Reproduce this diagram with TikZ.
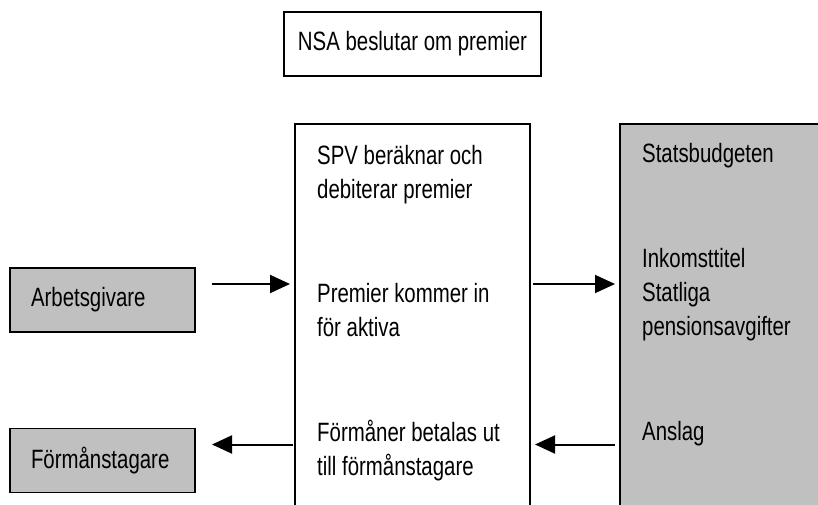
\documentclass[tikz,border=0pt]{standalone}
\usepackage{fontspec}
\setmainfont[FakeStretch=0.77]{Liberation Sans}
\usetikzlibrary{arrows.meta}
\definecolor{boxgray}{HTML}{C0C0C0}

\begin{document}
\begin{tikzpicture}[x=1pt, y=-1pt,
    font=\fontsize{26.5}{34}\selectfont,
    box/.style={draw, line width=1.8pt, outer sep=0pt, fill=white},
    graybox/.style={box, fill=boxgray, minimum width=185pt, minimum height=64pt,
        inner xsep=21pt, text width=143pt, align=left},
    txt/.style={anchor=base west, inner sep=0pt, align=left},
    arr/.style={-{Triangle[length=20pt, width=18pt]}, line width=2pt}]
    \useasboundingbox (0,0) rectangle (818,505);

    % Define positions of the boxes
    \node[box, minimum width=257pt, minimum height=64pt] (nsa) at (412.5, 44) {NSA beslutar om premier};
    \node[graybox] (ag) at (102.5, 300) {Arbetsgivare};
    \node[graybox] (fm) at (102.5, 460.5) {Förmånstagare};
    \node[box, anchor=north west, minimum width=235pt, minimum height=420pt] (spv) at (295, 124) {};
    \node[box, fill=boxgray, anchor=north west, minimum width=230pt, minimum height=420pt] (budget) at (620, 124) {};

    % Texts in the open boxes (base = last line)
    \node[txt] (spvtop) at (317, 198) {SPV beräknar och\\debiterar premier};
    \node[txt] (spvin) at (317, 336) {Premier kommer in\\för aktiva};
    \node[txt] (spvut) at (317, 475) {Förmåner betalas ut\\till förmånstagare};
    \node[txt] (sb) at (642, 163) {Statsbudgeten};
    \node[txt] (inkomst) at (642, 335) {Inkomsttitel\\Statliga\\pensionsavgifter};
    \node[txt] (anslag) at (642, 440) {Anslag};

    % Draw arrows between the boxes
    \draw[arr] ([shift={(17,-16)}]ag.east) -- ([shift={(-5,-16)}]ag.east -| spv.west);
    \draw[arr] ([shift={(3,-16)}]ag.east -| spv.east) -- ([shift={(-5,-16)}]ag.east -| budget.west);
    \draw[arr] ([shift={(-2,-16)}]fm.east -| spv.west) -- ([shift={(17,-16)}]fm.east);
    \draw[arr] ([shift={(-5,-16)}]fm.east -| budget.west) -- ([shift={(5,-16)}]fm.east -| spv.east);
\end{tikzpicture}
\end{document}
